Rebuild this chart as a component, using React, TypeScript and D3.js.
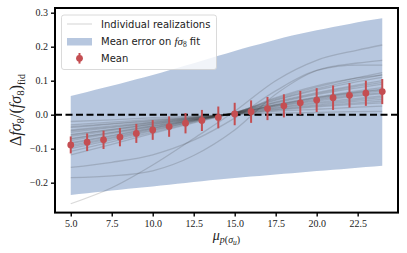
import React, { useEffect, useRef } from "react";
import * as d3 from "d3";

// x positions where each realization curve was sampled
const nodeX = [5, 7.5, 10, 12.5, 15, 17.5, 20, 22.5, 24];

// individual realizations (relative deviation at each node)
const realizations: number[][] = [
  [-0.262, -0.215, -0.148, -0.07, 0.01, 0.1, 0.16, 0.19, 0.205],
  [-0.185, -0.18, -0.165, -0.12, -0.045, 0.06, 0.13, 0.152, 0.16],
  [-0.155, -0.14, -0.118, -0.075, -0.01, 0.07, 0.13, 0.146, 0.146],
  [-0.02, -0.015, -0.009, -0.004, 0.001, 0.004, 0.007, 0.009, 0.01],
  [-0.03, -0.022, -0.014, -0.006, 0.001, 0.01, 0.016, 0.022, 0.025],
  [-0.038, -0.028, -0.018, -0.008, 0.002, 0.013, 0.023, 0.031, 0.035],
  [-0.045, -0.033, -0.021, -0.009, 0.002, 0.017, 0.029, 0.04, 0.045],
  [-0.052, -0.038, -0.024, -0.01, 0.003, 0.021, 0.036, 0.048, 0.055],
  [-0.058, -0.043, -0.027, -0.012, 0.003, 0.024, 0.04, 0.055, 0.062],
  [-0.064, -0.047, -0.03, -0.013, 0.004, 0.027, 0.046, 0.062, 0.07],
  [-0.07, -0.052, -0.033, -0.014, 0.004, 0.03, 0.052, 0.07, 0.08],
  [-0.076, -0.056, -0.036, -0.015, 0.005, 0.034, 0.059, 0.079, 0.09],
  [-0.082, -0.061, -0.039, -0.016, 0.005, 0.038, 0.065, 0.088, 0.1],
  [-0.09, -0.067, -0.042, -0.018, 0.006, 0.042, 0.072, 0.097, 0.11],
  [-0.1, -0.074, -0.047, -0.02, 0.006, 0.044, 0.076, 0.103, 0.117],
  [-0.108, -0.08, -0.051, -0.022, 0.006, 0.047, 0.081, 0.109, 0.124],
  [-0.118, -0.087, -0.055, -0.024, 0.005, 0.036, 0.062, 0.084, 0.095],
  [-0.06, -0.044, -0.028, -0.012, 0.002, 0.015, 0.026, 0.035, 0.04],
  [-0.048, -0.036, -0.023, -0.01, 0.004, 0.028, 0.049, 0.066, 0.075],
  [-0.085, -0.063, -0.04, -0.017, 0.003, 0.019, 0.033, 0.044, 0.05],
  [-0.035, -0.026, -0.017, -0.007, 0.006, 0.05, 0.085, 0.108, 0.117],
  [-0.072, -0.053, -0.034, -0.015, 0.004, 0.025, 0.043, 0.058, 0.065],
  [-0.095, -0.07, -0.045, -0.019, 0.005, 0.029, 0.05, 0.066, 0.073],
];

// mean and its error bars
const meanX = [5, 6, 7, 8, 9, 10, 11, 12, 13, 14, 15, 16, 17, 18, 19, 20, 21, 22, 23, 24];
const meanY = [
  -0.089, -0.081, -0.074, -0.066, -0.055, -0.045, -0.035, -0.025, -0.017, -0.008,
  0.002, 0.009, 0.018, 0.026, 0.035, 0.043, 0.05, 0.057, 0.063, 0.068,
];
const meanErr = [
  0.025, 0.026, 0.027, 0.027, 0.028, 0.029, 0.03, 0.03, 0.031, 0.032,
  0.033, 0.033, 0.034, 0.034, 0.035, 0.035, 0.036, 0.036, 0.037, 0.037,
];

// mean error band on f sigma8 fit
const bandUpper = [
  0.055, 0.067, 0.079, 0.091, 0.104, 0.117, 0.131, 0.145, 0.159, 0.173,
  0.187, 0.201, 0.214, 0.227, 0.238, 0.248, 0.258, 0.267, 0.276, 0.284,
];
const bandLower = [
  -0.236, -0.231, -0.226, -0.221, -0.216, -0.211, -0.206, -0.201, -0.196, -0.191,
  -0.186, -0.182, -0.178, -0.174, -0.17, -0.166, -0.162, -0.158, -0.154, -0.15,
];

const xTicks = [5, 7.5, 10, 12.5, 15, 17.5, 20, 22.5];
const yTicks = [-0.2, -0.1, 0, 0.1, 0.2, 0.3];

const W = 407;
const H = 253;

const App: React.FC = () => {
  const svgRef = useRef<SVGSVGElement | null>(null);

  useEffect(() => {
    if (!svgRef.current) return;
    const svg = d3.select(svgRef.current);
    svg.selectAll("*").remove();

    const left = 55, right = 398, top = 8, bottom = 212.6;
    const red = "#c44e52";
    const serif = "'Liberation Serif', serif";
    const sans = "'DejaVu Sans', sans-serif";

    const x = d3.scaleLinear().domain([4.04, 24.96]).range([left, right]);
    const y = d3.scaleLinear().domain([-0.288, 0.3138]).range([bottom, top]);

    // band
    const area = d3
      .area<number>()
      .x((_, i) => x(meanX[i]))
      .y0((_, i) => y(bandLower[i]))
      .y1((d) => y(d))
      .curve(d3.curveMonotoneX);
    svg
      .append("path")
      .attr("d", area(bandUpper))
      .attr("fill", "#4c72b0")
      .attr("fill-opacity", 0.4);

    // individual realizations
    const line = d3
      .line<number>()
      .x((_, i) => x(nodeX[i]))
      .y((d) => y(d))
      .curve(d3.curveMonotoneX);
    svg
      .append("g")
      .selectAll("path")
      .data(realizations)
      .join("path")
      .attr("d", (d) => line(d))
      .attr("fill", "none")
      .attr("stroke", "#333")
      .attr("stroke-opacity", 0.19)
      .attr("stroke-width", 1.3);

    // zero line
    svg
      .append("line")
      .attr("x1", left)
      .attr("x2", right)
      .attr("y1", y(0))
      .attr("y2", y(0))
      .attr("stroke", "black")
      .attr("stroke-width", 2)
      .attr("stroke-dasharray", "7,3.5");

    // mean with error bars
    const pts = svg.append("g");
    pts
      .selectAll("line")
      .data(meanX)
      .join("line")
      .attr("x1", (d) => x(d))
      .attr("x2", (d) => x(d))
      .attr("y1", (_, i) => y(meanY[i] - meanErr[i]))
      .attr("y2", (_, i) => y(meanY[i] + meanErr[i]))
      .attr("stroke", red)
      .attr("stroke-width", 2);
    pts
      .selectAll("circle")
      .data(meanX)
      .join("circle")
      .attr("cx", (d) => x(d))
      .attr("cy", (_, i) => y(meanY[i]))
      .attr("r", 3.4)
      .attr("fill", red);

    // axes
    const xAxis = svg
      .append("g")
      .attr("transform", `translate(0,${bottom})`)
      .call(d3.axisBottom(x).tickValues(xTicks).tickSize(4).tickPadding(3).tickFormat(d3.format(".1f") as any));
    const yAxis = svg
      .append("g")
      .attr("transform", `translate(${left},0)`)
      .call(d3.axisLeft(y).tickValues(yTicks).tickSize(4).tickPadding(3).tickFormat(d3.format(".1f") as any));
    [xAxis, yAxis].forEach((g) => {
      g.select(".domain").remove();
      g.selectAll("line").attr("stroke", "black").attr("stroke-width", 1.4);
      g.selectAll("text").attr("font-family", serif).attr("font-size", 10).attr("fill", "#222");
    });

    // frame
    svg
      .append("rect")
      .attr("x", left)
      .attr("y", top)
      .attr("width", right - left)
      .attr("height", bottom - top)
      .attr("fill", "none")
      .attr("stroke", "black")
      .attr("stroke-width", 2);

    // legend
    const lg = svg.append("g");
    lg.append("rect")
      .attr("x", 61.5)
      .attr("y", 15)
      .attr("width", 155)
      .attr("height", 54.5)
      .attr("rx", 2.5)
      .attr("fill", "white")
      .attr("fill-opacity", 0.8)
      .attr("stroke", "#d0d0d0")
      .attr("stroke-width", 0.8);
    lg.append("line")
      .attr("x1", 67).attr("x2", 92).attr("y1", 24).attr("y2", 24)
      .attr("stroke", "#333").attr("stroke-opacity", 0.17).attr("stroke-width", 1.3);
    lg.append("rect")
      .attr("x", 67).attr("y", 38).attr("width", 25).attr("height", 7.5)
      .attr("fill", "#4c72b0").attr("fill-opacity", 0.4);
    lg.append("line")
      .attr("x1", 79.5).attr("x2", 79.5).attr("y1", 53).attr("y2", 63.6)
      .attr("stroke", red).attr("stroke-width", 2);
    lg.append("circle").attr("cx", 79.5).attr("cy", 58.3).attr("r", 3.4).attr("fill", red);

    const lt = (yy: number) =>
      lg.append("text").attr("x", 101).attr("y", yy).attr("font-family", sans).attr("font-size", 10).attr("fill", "#222");
    lt(27.6).text("Individual realizations");
    const t2 = lt(45.3);
    t2.append("tspan").text("Mean error on ");
    t2.append("tspan").attr("font-family", serif).attr("font-style", "italic").attr("font-size", 11).text("fσ");
    t2.append("tspan").attr("font-family", serif).attr("font-size", 7.5).attr("dy", 2).text("8");
    t2.append("tspan").attr("dy", -2).text(" fit");
    lt(61.9).text("Mean");

    // y label
    const yl = svg
      .append("text")
      .attr("transform", "translate(21,110) rotate(-90)")
      .attr("text-anchor", "middle")
      .attr("font-family", serif)
      .attr("font-size", 16)
      .attr("fill", "#222");
    yl.append("tspan").text("Δ");
    yl.append("tspan").attr("font-style", "italic").text("fσ");
    yl.append("tspan").attr("font-size", 11).attr("dy", 3).text("8");
    yl.append("tspan").attr("dy", -3).text("/(");
    yl.append("tspan").attr("font-style", "italic").text("fσ");
    yl.append("tspan").attr("font-size", 11).attr("dy", 3).text("8");
    yl.append("tspan").attr("dy", -3).text(")");
    yl.append("tspan").attr("font-size", 10).attr("dy", 4).text("fid");

    // x label
    const xl = svg
      .append("text")
      .attr("x", (left + right) / 2)
      .attr("y", 240)
      .attr("text-anchor", "middle")
      .attr("font-family", serif)
      .attr("font-size", 14)
      .attr("fill", "#222");
    xl.append("tspan").attr("font-style", "italic").text("μ");
    xl.append("tspan").attr("font-size", 10).attr("dy", 3).attr("font-style", "italic").text("p");
    xl.append("tspan").attr("font-size", 10).text("(");
    xl.append("tspan").attr("font-size", 10).attr("font-style", "italic").text("σ");
    xl.append("tspan").attr("font-size", 7.5).attr("dy", 2).attr("font-style", "italic").text("u");
    xl.append("tspan").attr("font-size", 10).attr("dy", -2).text(")");
  }, []);

  return (
    <svg
      ref={svgRef}
      width={W}
      height={H}
      style={{ position: "absolute", left: 0, top: 0, background: "white" }}
    />
  );
};

export default App;
